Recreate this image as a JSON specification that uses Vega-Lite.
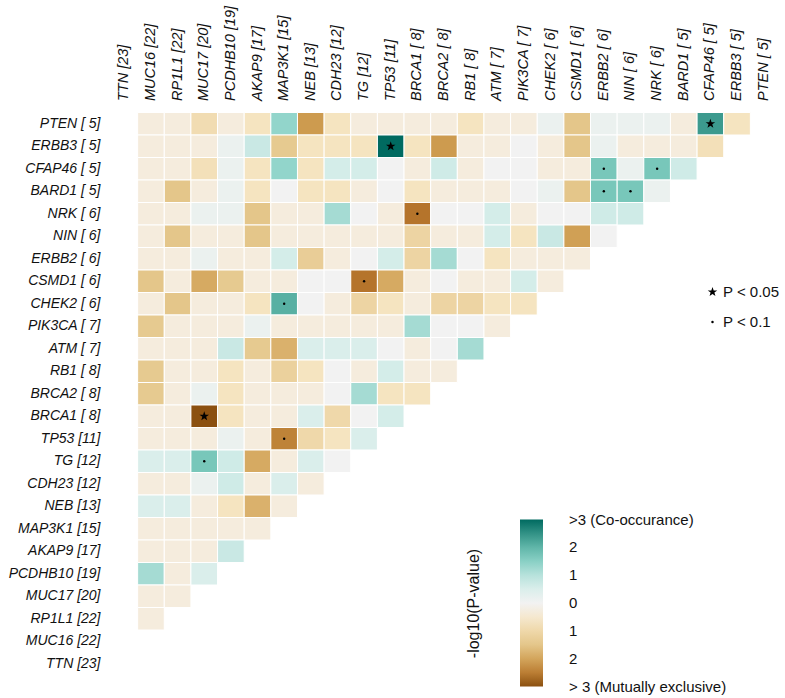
{
"$schema": "https://vega.github.io/schema/vega-lite/v6.json",
"width": 666, "height": 562.5,
"autosize": {"type": "none"},
"padding": {"left": 111, "top": 112.5, "right": 8, "bottom": 23},
"background": "white",
"config": {"view": {"stroke": null}, "font": "Liberation Sans"},
"data": {"values": [
{"r":"PTEN [ 5]","c":"MUC16 [22]","v":-0.3},{"r":"PTEN [ 5]","c":"RP1L1 [22]","v":-0.3},{"r":"PTEN [ 5]","c":"MUC17 [20]","v":-0.9},{"r":"PTEN [ 5]","c":"PCDHB10 [19]","v":-0.3},{"r":"PTEN [ 5]","c":"AKAP9 [17]","v":-0.7},{"r":"PTEN [ 5]","c":"MAP3K1 [15]","v":1.4},{"r":"PTEN [ 5]","c":"NEB [13]","v":-2.2},{"r":"PTEN [ 5]","c":"CDH23 [12]","v":-0.7},{"r":"PTEN [ 5]","c":"TG [12]","v":-0.3},{"r":"PTEN [ 5]","c":"TP53 [11]","v":-0.3},{"r":"PTEN [ 5]","c":"BRCA1 [ 8]","v":-0.3},{"r":"PTEN [ 5]","c":"BRCA2 [ 8]","v":-0.3},{"r":"PTEN [ 5]","c":"RB1 [ 8]","v":-0.7},{"r":"PTEN [ 5]","c":"ATM [ 7]","v":-0.3},{"r":"PTEN [ 5]","c":"PIK3CA [ 7]","v":-0.3},{"r":"PTEN [ 5]","c":"CHEK2 [ 6]","v":0.2},{"r":"PTEN [ 5]","c":"CSMD1 [ 6]","v":-1.5},{"r":"PTEN [ 5]","c":"ERBB2 [ 6]","v":0.2},{"r":"PTEN [ 5]","c":"NIN [ 6]","v":0.2},{"r":"PTEN [ 5]","c":"NRK [ 6]","v":0.2},{"r":"PTEN [ 5]","c":"BARD1 [ 5]","v":-0.3},{"r":"PTEN [ 5]","c":"CFAP46 [ 5]","v":2.4,"s":"P < 0.05"},{"r":"PTEN [ 5]","c":"ERBB3 [ 5]","v":-0.7},
{"r":"ERBB3 [ 5]","c":"MUC16 [22]","v":-0.3},{"r":"ERBB3 [ 5]","c":"RP1L1 [22]","v":-0.3},{"r":"ERBB3 [ 5]","c":"MUC17 [20]","v":-0.3},{"r":"ERBB3 [ 5]","c":"PCDHB10 [19]","v":0.2},{"r":"ERBB3 [ 5]","c":"AKAP9 [17]","v":0.8},{"r":"ERBB3 [ 5]","c":"MAP3K1 [15]","v":-1.4},{"r":"ERBB3 [ 5]","c":"NEB [13]","v":-0.7},{"r":"ERBB3 [ 5]","c":"CDH23 [12]","v":-0.7},{"r":"ERBB3 [ 5]","c":"TG [12]","v":-0.7},{"r":"ERBB3 [ 5]","c":"TP53 [11]","v":3,"s":"P < 0.05"},{"r":"ERBB3 [ 5]","c":"BRCA1 [ 8]","v":-0.7},{"r":"ERBB3 [ 5]","c":"BRCA2 [ 8]","v":-2.2},{"r":"ERBB3 [ 5]","c":"RB1 [ 8]","v":-0.3},{"r":"ERBB3 [ 5]","c":"ATM [ 7]","v":-0.3},{"r":"ERBB3 [ 5]","c":"PIK3CA [ 7]","v":0},{"r":"ERBB3 [ 5]","c":"CHEK2 [ 6]","v":-0.3},{"r":"ERBB3 [ 5]","c":"CSMD1 [ 6]","v":-1.5},{"r":"ERBB3 [ 5]","c":"ERBB2 [ 6]","v":0.2},{"r":"ERBB3 [ 5]","c":"NIN [ 6]","v":-0.3},{"r":"ERBB3 [ 5]","c":"NRK [ 6]","v":-0.3},{"r":"ERBB3 [ 5]","c":"BARD1 [ 5]","v":-0.3},{"r":"ERBB3 [ 5]","c":"CFAP46 [ 5]","v":-0.8},
{"r":"CFAP46 [ 5]","c":"MUC16 [22]","v":-0.3},{"r":"CFAP46 [ 5]","c":"RP1L1 [22]","v":-0.3},{"r":"CFAP46 [ 5]","c":"MUC17 [20]","v":-0.8},{"r":"CFAP46 [ 5]","c":"PCDHB10 [19]","v":0.2},{"r":"CFAP46 [ 5]","c":"AKAP9 [17]","v":-0.7},{"r":"CFAP46 [ 5]","c":"MAP3K1 [15]","v":1.4},{"r":"CFAP46 [ 5]","c":"NEB [13]","v":-0.7},{"r":"CFAP46 [ 5]","c":"CDH23 [12]","v":0.6},{"r":"CFAP46 [ 5]","c":"TG [12]","v":0.6},{"r":"CFAP46 [ 5]","c":"TP53 [11]","v":0},{"r":"CFAP46 [ 5]","c":"BRCA1 [ 8]","v":-0.3},{"r":"CFAP46 [ 5]","c":"BRCA2 [ 8]","v":0.7},{"r":"CFAP46 [ 5]","c":"RB1 [ 8]","v":-0.3},{"r":"CFAP46 [ 5]","c":"ATM [ 7]","v":0},{"r":"CFAP46 [ 5]","c":"PIK3CA [ 7]","v":0},{"r":"CFAP46 [ 5]","c":"CHEK2 [ 6]","v":-0.3},{"r":"CFAP46 [ 5]","c":"CSMD1 [ 6]","v":-0.3},{"r":"CFAP46 [ 5]","c":"ERBB2 [ 6]","v":1.7,"s":"P < 0.1"},{"r":"CFAP46 [ 5]","c":"NIN [ 6]","v":0.2},{"r":"CFAP46 [ 5]","c":"NRK [ 6]","v":1.7,"s":"P < 0.1"},{"r":"CFAP46 [ 5]","c":"BARD1 [ 5]","v":0.7},
{"r":"BARD1 [ 5]","c":"MUC16 [22]","v":-0.3},{"r":"BARD1 [ 5]","c":"RP1L1 [22]","v":-1.5},{"r":"BARD1 [ 5]","c":"MUC17 [20]","v":-0.3},{"r":"BARD1 [ 5]","c":"PCDHB10 [19]","v":0.2},{"r":"BARD1 [ 5]","c":"AKAP9 [17]","v":-0.7},{"r":"BARD1 [ 5]","c":"MAP3K1 [15]","v":0},{"r":"BARD1 [ 5]","c":"NEB [13]","v":-0.7},{"r":"BARD1 [ 5]","c":"CDH23 [12]","v":-0.7},{"r":"BARD1 [ 5]","c":"TG [12]","v":-0.3},{"r":"BARD1 [ 5]","c":"TP53 [11]","v":0},{"r":"BARD1 [ 5]","c":"BRCA1 [ 8]","v":-0.7},{"r":"BARD1 [ 5]","c":"BRCA2 [ 8]","v":-0.3},{"r":"BARD1 [ 5]","c":"RB1 [ 8]","v":-0.3},{"r":"BARD1 [ 5]","c":"ATM [ 7]","v":-0.3},{"r":"BARD1 [ 5]","c":"PIK3CA [ 7]","v":0},{"r":"BARD1 [ 5]","c":"CHEK2 [ 6]","v":0.2},{"r":"BARD1 [ 5]","c":"CSMD1 [ 6]","v":-1.5},{"r":"BARD1 [ 5]","c":"ERBB2 [ 6]","v":1.7,"s":"P < 0.1"},{"r":"BARD1 [ 5]","c":"NIN [ 6]","v":1.7,"s":"P < 0.1"},{"r":"BARD1 [ 5]","c":"NRK [ 6]","v":0.2},
{"r":"NRK [ 6]","c":"MUC16 [22]","v":-0.3},{"r":"NRK [ 6]","c":"RP1L1 [22]","v":-0.3},{"r":"NRK [ 6]","c":"MUC17 [20]","v":0.2},{"r":"NRK [ 6]","c":"PCDHB10 [19]","v":0.2},{"r":"NRK [ 6]","c":"AKAP9 [17]","v":-1.5},{"r":"NRK [ 6]","c":"MAP3K1 [15]","v":-0.3},{"r":"NRK [ 6]","c":"NEB [13]","v":-0.3},{"r":"NRK [ 6]","c":"CDH23 [12]","v":1.2},{"r":"NRK [ 6]","c":"TG [12]","v":0},{"r":"NRK [ 6]","c":"TP53 [11]","v":-0.3},{"r":"NRK [ 6]","c":"BRCA1 [ 8]","v":-2.6,"s":"P < 0.1"},{"r":"NRK [ 6]","c":"BRCA2 [ 8]","v":0},{"r":"NRK [ 6]","c":"RB1 [ 8]","v":0},{"r":"NRK [ 6]","c":"ATM [ 7]","v":0.6},{"r":"NRK [ 6]","c":"PIK3CA [ 7]","v":-0.3},{"r":"NRK [ 6]","c":"CHEK2 [ 6]","v":0},{"r":"NRK [ 6]","c":"CSMD1 [ 6]","v":0},{"r":"NRK [ 6]","c":"ERBB2 [ 6]","v":0.7},{"r":"NRK [ 6]","c":"NIN [ 6]","v":0.7},
{"r":"NIN [ 6]","c":"MUC16 [22]","v":-0.3},{"r":"NIN [ 6]","c":"RP1L1 [22]","v":-1.5},{"r":"NIN [ 6]","c":"MUC17 [20]","v":-0.3},{"r":"NIN [ 6]","c":"PCDHB10 [19]","v":-0.3},{"r":"NIN [ 6]","c":"AKAP9 [17]","v":-1.5},{"r":"NIN [ 6]","c":"MAP3K1 [15]","v":-0.3},{"r":"NIN [ 6]","c":"NEB [13]","v":-0.3},{"r":"NIN [ 6]","c":"CDH23 [12]","v":-0.3},{"r":"NIN [ 6]","c":"TG [12]","v":-0.3},{"r":"NIN [ 6]","c":"TP53 [11]","v":-0.3},{"r":"NIN [ 6]","c":"BRCA1 [ 8]","v":-1.1},{"r":"NIN [ 6]","c":"BRCA2 [ 8]","v":-0.3},{"r":"NIN [ 6]","c":"RB1 [ 8]","v":-0.3},{"r":"NIN [ 6]","c":"ATM [ 7]","v":0.6},{"r":"NIN [ 6]","c":"PIK3CA [ 7]","v":-0.7},{"r":"NIN [ 6]","c":"CHEK2 [ 6]","v":0.8},{"r":"NIN [ 6]","c":"CSMD1 [ 6]","v":-2.1},{"r":"NIN [ 6]","c":"ERBB2 [ 6]","v":0},
{"r":"ERBB2 [ 6]","c":"MUC16 [22]","v":-0.3},{"r":"ERBB2 [ 6]","c":"RP1L1 [22]","v":-0.3},{"r":"ERBB2 [ 6]","c":"MUC17 [20]","v":0.2},{"r":"ERBB2 [ 6]","c":"PCDHB10 [19]","v":-0.3},{"r":"ERBB2 [ 6]","c":"AKAP9 [17]","v":-0.3},{"r":"ERBB2 [ 6]","c":"MAP3K1 [15]","v":0.6},{"r":"ERBB2 [ 6]","c":"NEB [13]","v":-1.3},{"r":"ERBB2 [ 6]","c":"CDH23 [12]","v":-0.3},{"r":"ERBB2 [ 6]","c":"TG [12]","v":0},{"r":"ERBB2 [ 6]","c":"TP53 [11]","v":0.6},{"r":"ERBB2 [ 6]","c":"BRCA1 [ 8]","v":-1.1},{"r":"ERBB2 [ 6]","c":"BRCA2 [ 8]","v":1.2},{"r":"ERBB2 [ 6]","c":"RB1 [ 8]","v":0},{"r":"ERBB2 [ 6]","c":"ATM [ 7]","v":-0.7},{"r":"ERBB2 [ 6]","c":"PIK3CA [ 7]","v":-0.3},{"r":"ERBB2 [ 6]","c":"CHEK2 [ 6]","v":-0.3},{"r":"ERBB2 [ 6]","c":"CSMD1 [ 6]","v":-0.3},
{"r":"CSMD1 [ 6]","c":"MUC16 [22]","v":-1.5},{"r":"CSMD1 [ 6]","c":"RP1L1 [22]","v":-0.3},{"r":"CSMD1 [ 6]","c":"MUC17 [20]","v":-1.9},{"r":"CSMD1 [ 6]","c":"PCDHB10 [19]","v":-1.4},{"r":"CSMD1 [ 6]","c":"AKAP9 [17]","v":-0.3},{"r":"CSMD1 [ 6]","c":"MAP3K1 [15]","v":-0.3},{"r":"CSMD1 [ 6]","c":"NEB [13]","v":0},{"r":"CSMD1 [ 6]","c":"CDH23 [12]","v":0},{"r":"CSMD1 [ 6]","c":"TG [12]","v":-2.6,"s":"P < 0.1"},{"r":"CSMD1 [ 6]","c":"TP53 [11]","v":-1.9},{"r":"CSMD1 [ 6]","c":"BRCA1 [ 8]","v":-0.3},{"r":"CSMD1 [ 6]","c":"BRCA2 [ 8]","v":0},{"r":"CSMD1 [ 6]","c":"RB1 [ 8]","v":-0.3},{"r":"CSMD1 [ 6]","c":"ATM [ 7]","v":-0.3},{"r":"CSMD1 [ 6]","c":"PIK3CA [ 7]","v":0.6},{"r":"CSMD1 [ 6]","c":"CHEK2 [ 6]","v":-0.3},
{"r":"CHEK2 [ 6]","c":"MUC16 [22]","v":-0.3},{"r":"CHEK2 [ 6]","c":"RP1L1 [22]","v":-1.5},{"r":"CHEK2 [ 6]","c":"MUC17 [20]","v":-0.3},{"r":"CHEK2 [ 6]","c":"PCDHB10 [19]","v":-0.3},{"r":"CHEK2 [ 6]","c":"AKAP9 [17]","v":-0.7},{"r":"CHEK2 [ 6]","c":"MAP3K1 [15]","v":2.1,"s":"P < 0.1"},{"r":"CHEK2 [ 6]","c":"NEB [13]","v":0},{"r":"CHEK2 [ 6]","c":"CDH23 [12]","v":-0.3},{"r":"CHEK2 [ 6]","c":"TG [12]","v":-1.1},{"r":"CHEK2 [ 6]","c":"TP53 [11]","v":-0.7},{"r":"CHEK2 [ 6]","c":"BRCA1 [ 8]","v":-0.3},{"r":"CHEK2 [ 6]","c":"BRCA2 [ 8]","v":-1.1},{"r":"CHEK2 [ 6]","c":"RB1 [ 8]","v":-1.1},{"r":"CHEK2 [ 6]","c":"ATM [ 7]","v":-0.7},{"r":"CHEK2 [ 6]","c":"PIK3CA [ 7]","v":-0.7},
{"r":"PIK3CA [ 7]","c":"MUC16 [22]","v":-1.4},{"r":"PIK3CA [ 7]","c":"RP1L1 [22]","v":-0.3},{"r":"PIK3CA [ 7]","c":"MUC17 [20]","v":-0.3},{"r":"PIK3CA [ 7]","c":"PCDHB10 [19]","v":-0.3},{"r":"PIK3CA [ 7]","c":"AKAP9 [17]","v":0.2},{"r":"PIK3CA [ 7]","c":"MAP3K1 [15]","v":-0.3},{"r":"PIK3CA [ 7]","c":"NEB [13]","v":-0.3},{"r":"PIK3CA [ 7]","c":"CDH23 [12]","v":-0.3},{"r":"PIK3CA [ 7]","c":"TG [12]","v":-0.3},{"r":"PIK3CA [ 7]","c":"TP53 [11]","v":-0.3},{"r":"PIK3CA [ 7]","c":"BRCA1 [ 8]","v":1.2},{"r":"PIK3CA [ 7]","c":"BRCA2 [ 8]","v":0},{"r":"PIK3CA [ 7]","c":"RB1 [ 8]","v":0},{"r":"PIK3CA [ 7]","c":"ATM [ 7]","v":-0.3},
{"r":"ATM [ 7]","c":"MUC16 [22]","v":-0.3},{"r":"ATM [ 7]","c":"RP1L1 [22]","v":-0.3},{"r":"ATM [ 7]","c":"MUC17 [20]","v":-0.3},{"r":"ATM [ 7]","c":"PCDHB10 [19]","v":0.8},{"r":"ATM [ 7]","c":"AKAP9 [17]","v":-1.4},{"r":"ATM [ 7]","c":"MAP3K1 [15]","v":-1.8},{"r":"ATM [ 7]","c":"NEB [13]","v":0.5},{"r":"ATM [ 7]","c":"CDH23 [12]","v":0.5},{"r":"ATM [ 7]","c":"TG [12]","v":0.5},{"r":"ATM [ 7]","c":"TP53 [11]","v":0},{"r":"ATM [ 7]","c":"BRCA1 [ 8]","v":-0.3},{"r":"ATM [ 7]","c":"BRCA2 [ 8]","v":0},{"r":"ATM [ 7]","c":"RB1 [ 8]","v":1.2},
{"r":"RB1 [ 8]","c":"MUC16 [22]","v":-1.4},{"r":"RB1 [ 8]","c":"RP1L1 [22]","v":-0.3},{"r":"RB1 [ 8]","c":"MUC17 [20]","v":-0.3},{"r":"RB1 [ 8]","c":"PCDHB10 [19]","v":-0.7},{"r":"RB1 [ 8]","c":"AKAP9 [17]","v":-0.3},{"r":"RB1 [ 8]","c":"MAP3K1 [15]","v":-1.2},{"r":"RB1 [ 8]","c":"NEB [13]","v":-0.7},{"r":"RB1 [ 8]","c":"CDH23 [12]","v":0},{"r":"RB1 [ 8]","c":"TG [12]","v":-0.3},{"r":"RB1 [ 8]","c":"TP53 [11]","v":0.6},{"r":"RB1 [ 8]","c":"BRCA1 [ 8]","v":-0.3},{"r":"RB1 [ 8]","c":"BRCA2 [ 8]","v":-0.3},
{"r":"BRCA2 [ 8]","c":"MUC16 [22]","v":-1.4},{"r":"BRCA2 [ 8]","c":"RP1L1 [22]","v":-0.3},{"r":"BRCA2 [ 8]","c":"MUC17 [20]","v":0.2},{"r":"BRCA2 [ 8]","c":"PCDHB10 [19]","v":-0.7},{"r":"BRCA2 [ 8]","c":"AKAP9 [17]","v":-0.3},{"r":"BRCA2 [ 8]","c":"MAP3K1 [15]","v":-0.3},{"r":"BRCA2 [ 8]","c":"NEB [13]","v":-0.3},{"r":"BRCA2 [ 8]","c":"CDH23 [12]","v":0},{"r":"BRCA2 [ 8]","c":"TG [12]","v":1.2},{"r":"BRCA2 [ 8]","c":"TP53 [11]","v":-0.7},{"r":"BRCA2 [ 8]","c":"BRCA1 [ 8]","v":-0.7},
{"r":"BRCA1 [ 8]","c":"MUC16 [22]","v":-0.3},{"r":"BRCA1 [ 8]","c":"RP1L1 [22]","v":-0.3},{"r":"BRCA1 [ 8]","c":"MUC17 [20]","v":-3,"s":"P < 0.05"},{"r":"BRCA1 [ 8]","c":"PCDHB10 [19]","v":-0.7},{"r":"BRCA1 [ 8]","c":"AKAP9 [17]","v":-0.3},{"r":"BRCA1 [ 8]","c":"MAP3K1 [15]","v":-0.3},{"r":"BRCA1 [ 8]","c":"NEB [13]","v":0.5},{"r":"BRCA1 [ 8]","c":"CDH23 [12]","v":-1.0},{"r":"BRCA1 [ 8]","c":"TG [12]","v":0},{"r":"BRCA1 [ 8]","c":"TP53 [11]","v":0.6},
{"r":"TP53 [11]","c":"MUC16 [22]","v":-0.3},{"r":"TP53 [11]","c":"RP1L1 [22]","v":-0.3},{"r":"TP53 [11]","c":"MUC17 [20]","v":-0.3},{"r":"TP53 [11]","c":"PCDHB10 [19]","v":0.2},{"r":"TP53 [11]","c":"AKAP9 [17]","v":-0.3},{"r":"TP53 [11]","c":"MAP3K1 [15]","v":-2.45,"s":"P < 0.1"},{"r":"TP53 [11]","c":"NEB [13]","v":-1.0},{"r":"TP53 [11]","c":"CDH23 [12]","v":-0.7},{"r":"TP53 [11]","c":"TG [12]","v":0.5},
{"r":"TG [12]","c":"MUC16 [22]","v":0.5},{"r":"TG [12]","c":"RP1L1 [22]","v":0.5},{"r":"TG [12]","c":"MUC17 [20]","v":1.7,"s":"P < 0.1"},{"r":"TG [12]","c":"PCDHB10 [19]","v":0.7},{"r":"TG [12]","c":"AKAP9 [17]","v":-1.9},{"r":"TG [12]","c":"MAP3K1 [15]","v":-0.3},{"r":"TG [12]","c":"NEB [13]","v":0.5},{"r":"TG [12]","c":"CDH23 [12]","v":0},
{"r":"CDH23 [12]","c":"MUC16 [22]","v":-0.3},{"r":"CDH23 [12]","c":"RP1L1 [22]","v":-0.3},{"r":"CDH23 [12]","c":"MUC17 [20]","v":0.2},{"r":"CDH23 [12]","c":"PCDHB10 [19]","v":0.7},{"r":"CDH23 [12]","c":"AKAP9 [17]","v":-0.3},{"r":"CDH23 [12]","c":"MAP3K1 [15]","v":0.5},{"r":"CDH23 [12]","c":"NEB [13]","v":-0.3},
{"r":"NEB [13]","c":"MUC16 [22]","v":0.5},{"r":"NEB [13]","c":"RP1L1 [22]","v":0.5},{"r":"NEB [13]","c":"MUC17 [20]","v":-0.3},{"r":"NEB [13]","c":"PCDHB10 [19]","v":-0.7},{"r":"NEB [13]","c":"AKAP9 [17]","v":-1.8},{"r":"NEB [13]","c":"MAP3K1 [15]","v":-0.3},
{"r":"MAP3K1 [15]","c":"MUC16 [22]","v":-0.3},{"r":"MAP3K1 [15]","c":"RP1L1 [22]","v":-0.3},{"r":"MAP3K1 [15]","c":"MUC17 [20]","v":-0.3},{"r":"MAP3K1 [15]","c":"PCDHB10 [19]","v":-0.3},{"r":"MAP3K1 [15]","c":"AKAP9 [17]","v":-0.3},
{"r":"AKAP9 [17]","c":"MUC16 [22]","v":-0.3},{"r":"AKAP9 [17]","c":"RP1L1 [22]","v":-0.3},{"r":"AKAP9 [17]","c":"MUC17 [20]","v":-0.3},{"r":"AKAP9 [17]","c":"PCDHB10 [19]","v":0.8},
{"r":"PCDHB10 [19]","c":"MUC16 [22]","v":1.2},{"r":"PCDHB10 [19]","c":"RP1L1 [22]","v":-0.3},{"r":"PCDHB10 [19]","c":"MUC17 [20]","v":0.5},
{"r":"MUC17 [20]","c":"MUC16 [22]","v":-0.3},{"r":"MUC17 [20]","c":"RP1L1 [22]","v":-0.3},
{"r":"RP1L1 [22]","c":"MUC16 [22]","v":-0.3}
]},
"encoding": {
  "x": {"field": "c", "type": "nominal",
    "scale": {"domain": ["TTN [23]","MUC16 [22]","RP1L1 [22]","MUC17 [20]","PCDHB10 [19]","AKAP9 [17]","MAP3K1 [15]","NEB [13]","CDH23 [12]","TG [12]","TP53 [11]","BRCA1 [ 8]","BRCA2 [ 8]","RB1 [ 8]","ATM [ 7]","PIK3CA [ 7]","CHEK2 [ 6]","CSMD1 [ 6]","ERBB2 [ 6]","NIN [ 6]","NRK [ 6]","BARD1 [ 5]","CFAP46 [ 5]","ERBB3 [ 5]","PTEN [ 5]"], "paddingInner": 0, "paddingOuter": 0},
    "axis": {"orient": "top", "title": null, "labelAngle": -90, "labelFontStyle": "italic", "labelFontSize": 14.5, "labelPadding": 12, "ticks": false, "domain": false, "labelColor": "#111", "labelFont": "Liberation Sans"}},
  "y": {"field": "r", "type": "nominal",
    "scale": {"domain": ["PTEN [ 5]","ERBB3 [ 5]","CFAP46 [ 5]","BARD1 [ 5]","NRK [ 6]","NIN [ 6]","ERBB2 [ 6]","CSMD1 [ 6]","CHEK2 [ 6]","PIK3CA [ 7]","ATM [ 7]","RB1 [ 8]","BRCA2 [ 8]","BRCA1 [ 8]","TP53 [11]","TG [12]","CDH23 [12]","NEB [13]","MAP3K1 [15]","AKAP9 [17]","PCDHB10 [19]","MUC17 [20]","RP1L1 [22]","MUC16 [22]","TTN [23]"], "paddingInner": 0, "paddingOuter": 0},
    "axis": {"title": null, "labelFontStyle": "italic", "labelFontSize": 14, "labelPadding": 11, "ticks": false, "domain": false, "labelColor": "#111", "labelFont": "Liberation Sans"}}
},
"layer": [
  {"mark": {"type": "rect", "stroke": "white", "strokeWidth": 1},
   "encoding": {
     "color": {"field": "v", "type": "quantitative",
       "scale": {"domain": [-3,-2.6,-2.2,-1.9,-1.5,-1.1,-0.7,-0.3,0,0.2,0.6,0.8,1.2,1.4,1.7,2.2,3],
                 "range": ["#8B5010","#B5742B","#CD9B4F","#D6AA62","#E4C68A","#EDD4A3","#F5E4C0","#F5ECDD","#F2F2F2","#EBF1EF","#D4EDE9","#C9E8E4","#A5DBD3","#92D5CB","#78C7BA","#50AA9D","#006A60"],
                 "interpolate": "rgb", "clamp": true},
       "legend": {"orient": "none", "legendX": 355, "legendY": 407, "direction": "vertical",
         "gradientLength": 167, "gradientThickness": 23, "gradientStrokeWidth": 0,
         "values": [-3,-2,-1,0,1,2,3], "labelOverlap": false, "labelBaseline": "middle",
         "labelExpr": "datum.value >= 3 ? '>3 (Co-occurance)' : datum.value <= -3 ? '> 3 (Mutually exclusive)' : format(abs(datum.value), 'd')",
         "title": "-log10(P-value)", "titleOrient": "left", "titleFontSize": 16, "titleFontWeight": "normal", "titleFont": "Liberation Sans", "titleColor": "#111", "titlePadding": 37, "titleAnchor": "middle",
         "labelFontSize": 15, "labelFont": "Liberation Sans", "labelColor": "#111", "labelOffset": 26,
         "encode": {"labels": {"update": {"baseline": {"value": "middle"}}}}}}
   }},
  {"transform": [{"filter": "datum.s"}],
   "mark": {"type": "point", "filled": true, "color": "black", "opacity": 1, "strokeWidth": 0},
   "encoding": {
     "shape": {"field": "s", "type": "ordinal",
       "scale": {"domain": ["P < 0.05","P < 0.1"], "range": ["M0,-1L0.235,-0.324L0.951,-0.309L0.38,0.124L0.588,0.809L0,0.4L-0.588,0.809L-0.38,0.124L-0.951,-0.309L-0.235,-0.324Z","circle"]},
       "legend": {"orient": "none", "legendX": 594, "legendY": 172, "title": null, "labelFontSize": 15, "labelFont": "Liberation Sans", "labelColor": "#111", "rowPadding": 14, "symbolStrokeWidth": 0, "symbolFillColor": "black", "labelOffset": 3}},
     "size": {"field": "s", "type": "ordinal",
       "scale": {"domain": ["P < 0.05","P < 0.1"], "range": [100, 6]},
       "legend": {"orient": "none", "legendX": 594, "legendY": 172, "title": null, "labelFontSize": 15, "labelFont": "Liberation Sans", "labelColor": "#111", "rowPadding": 14, "symbolStrokeWidth": 0, "symbolFillColor": "black", "labelOffset": 3}}
   }}
]
}
